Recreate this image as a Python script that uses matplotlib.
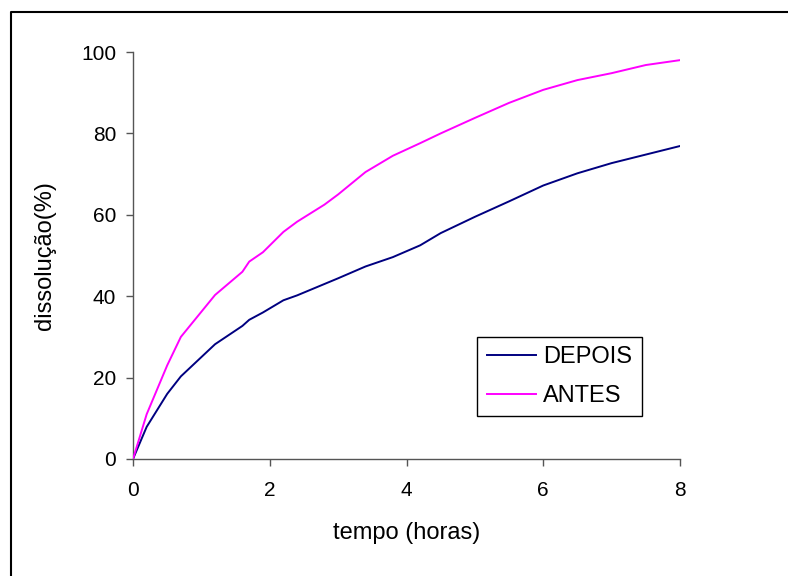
import matplotlib.pyplot as plt
from matplotlib.lines import Line2D

plt.rcParams['font.family'] = ['Liberation Sans', 'DejaVu Sans']

# tempo (horas)
tempo = [0, 0.2, 0.5, 0.7, 1.2, 1.6, 1.7, 1.9, 2.2, 2.4, 2.8, 3.0, 3.4, 3.8,
         4.2, 4.5, 5.0, 5.5, 6.0, 6.5, 7.0, 7.5, 8.0]
depois = [0, 7.9, 16, 20.3, 28.2, 32.7, 34.2, 36, 39, 40.2, 43, 44.4, 47.3, 49.6,
          52.5, 55.5, 59.5, 63.3, 67.2, 70.2, 72.7, 74.8, 76.9]
antes = [0, 11, 23, 30, 40.3, 46, 48.5, 50.8, 55.8, 58.3, 62.5, 65, 70.5, 74.5,
         77.6, 80, 83.8, 87.5, 90.7, 93.1, 94.8, 96.8, 98]

xticks = [0, 2, 4, 6, 8]
yticks = [0, 20, 40, 60, 80, 100]

fig = plt.figure(figsize=(7.88, 5.76), dpi=100)
ax = fig.add_axes([133 / 788, 1 - 459 / 576, 547 / 788, 407 / 576])

ax.plot(tempo, depois, color='#000080', lw=1.4, label='DEPOIS')
ax.plot(tempo, antes, color='#ff00ff', lw=1.4, label='ANTES')

ax.set_xlim(0, 8)
ax.set_ylim(0, 100)
ax.set_xticks(xticks)
ax.set_yticks(yticks)
for s in ['top', 'right']:
    ax.spines[s].set_visible(False)
for s in ['left', 'bottom']:
    ax.spines[s].set_color('#555555')
    ax.spines[s].set_linewidth(1.0)
ax.spines['left'].set_zorder(0)
ax.tick_params(axis='both', colors='#555555', labelcolor='black', labelsize=15,
               length=5, width=1.0, direction='out')
ax.tick_params(axis='x', pad=11)
ax.tick_params(axis='y', pad=7)

ax.set_xlabel('tempo (horas)', fontsize=17, labelpad=16)
ax.set_ylabel('dissolução(%)', fontsize=17, labelpad=18)

leg = ax.legend(loc='upper left', bbox_to_anchor=(0.629, 0.30), borderaxespad=0,
                fontsize=17, fancybox=False, framealpha=1, edgecolor='black',
                handlelength=2.1, handletextpad=0.3, labelspacing=0.7,
                borderpad=0.4)
leg.get_frame().set_linewidth(1.0)

# moldura do gráfico (esquerda e topo)
fx = 11 / 788
fy = 1 - 12 / 576
fig.add_artist(Line2D([fx, fx, 1.0], [0, fy, fy], color='black', lw=1.5,
                      transform=fig.transFigure))

fig.savefig('out.png', dpi=100)
